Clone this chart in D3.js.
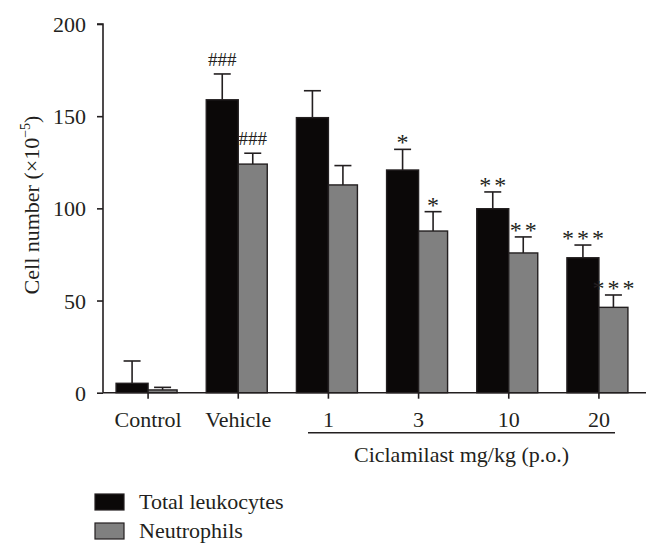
<!DOCTYPE html>
<html><head><meta charset="utf-8">
<script src="https://cdn.jsdelivr.net/npm/d3@7"></script>
<style>body{margin:0;background:#fff}svg{display:block}svg text{font-family:'Liberation Serif','DejaVu Serif';fill:#231f20}</style>
</head><body>
<svg id="c" width="660" height="556"></svg>
<script>
const categories = ["Control","Vehicle","1","3","10","20"];
const leukocytes = [5.1,158.9,149.2,120.8,99.8,73.2];
const leukocytesErr = [12.1,14.0,14.6,11.2,9.1,6.9];
const neutrophils = [1.5,124,112.7,87.7,75.8,46.3];
const neutrophilsErr = [1.4,5.9,10.5,10.5,8.7,6.7];
const leukMarks = ["","###","","*","**","***"];
const neutMarks = ["","###","","*","**","***"];
const yTicks = [0,50,100,150,200];
const seriesNames = ["Total leukocytes","Neutrophils"];
const colors = ["#0b0808","#808080"];

const svg = d3.select("#c");
const x = d3.scaleBand().domain(categories).range([103,644]).padding(0);
const y = d3.scaleLinear().domain([0,200]).range([392.7,24]);
const ink = "#231f20";
const FF = "'Liberation Serif','DejaVu Serif'";

const yAxis = svg.append("g").attr("transform","translate(103,0)")
  .call(d3.axisLeft(y).tickValues(yTicks).tickSize(6).tickPadding(11).tickFormat(d3.format("d")));
yAxis.attr("font-family",FF);
yAxis.select(".domain").attr("stroke",ink).attr("stroke-width",1.6).attr("d","M-6,24H0V392.7");
yAxis.selectAll(".tick line").attr("stroke",ink).attr("stroke-width",1.6);
yAxis.selectAll(".tick text").attr("font-size",22).attr("fill",ink).attr("dy","0.34em");

const xAxis = svg.append("g").attr("transform","translate(0,392.7)")
  .call(d3.axisBottom(x).tickSize(6).tickPadding(13));
xAxis.attr("font-family",FF);
xAxis.select(".domain").attr("stroke",ink).attr("stroke-width",1.6).attr("d","M103,0H646");
xAxis.selectAll(".tick line").attr("stroke",ink).attr("stroke-width",1.6);
xAxis.selectAll(".tick text").attr("font-size",22).attr("fill",ink);

const bw = [32,29];
const groups = [
  {vals:leukocytes, err:leukocytesErr, marks:leukMarks, off:c=>x(c)+x.bandwidth()/2-bw[0], w:bw[0], col:colors[0]},
  {vals:neutrophils, err:neutrophilsErr, marks:neutMarks, off:c=>x(c)+x.bandwidth()/2, w:bw[1], col:colors[1]}
];
groups.forEach(g=>{
  const sel = svg.append("g");
  categories.forEach((c,i)=>{
    const cx = g.off(c)+g.w/2;
    const top = y(g.vals[i] + g.err[i]);
    sel.append("line").attr("x1",cx).attr("x2",cx).attr("y1",y(g.vals[i])).attr("y2",top).attr("stroke",ink).attr("stroke-width",1.6);
    sel.append("line").attr("x1",cx-8.5).attr("x2",cx+8.5).attr("y1",top).attr("y2",top).attr("stroke",ink).attr("stroke-width",1.6);
    sel.append("rect").attr("x",g.off(c)).attr("y",y(g.vals[i])).attr("width",g.w).attr("height",y(0)-y(g.vals[i]))
      .attr("fill",g.col).attr("stroke",ink).attr("stroke-width",1.4);
    const m = g.marks[i];
    if(m){
      if(m[0]==="#"){
        sel.append("text").attr("x",cx).attr("y",top-8).attr("text-anchor","middle").attr("font-size",19).text(m);
      } else {
        sel.append("text").attr("x",cx+1.5).attr("y",top+1).attr("text-anchor","middle").attr("font-size",24)
          .attr("letter-spacing","3px").text(m);
      }
    }
  });
});

svg.append("line").attr("x1",308).attr("x2",615).attr("y1",432.7).attr("y2",432.7).attr("stroke",ink).attr("stroke-width",1.6);
svg.append("text").attr("x",461.5).attr("y",461.5).attr("text-anchor","middle").attr("font-size",22).text("Ciclamilast mg/kg (p.o.)");

const yt = svg.append("text").attr("transform","translate(39,205) rotate(-90)").attr("text-anchor","middle").attr("font-size",22);
yt.append("tspan").text("Cell number (×10");
yt.append("tspan").attr("font-size",14).attr("dy","-9").text("−5");
yt.append("tspan").attr("dy","9").text(")");

const lg = svg.append("g");
seriesNames.forEach((s,i)=>{
  const yy = 494 + i*29;
  lg.append("rect").attr("x",95).attr("y",yy).attr("width",29).attr("height",16).attr("fill",colors[i]).attr("stroke",ink).attr("stroke-width",1.2);
  lg.append("text").attr("x",139).attr("y",yy+14.5).attr("font-size",22).text(s);
});
</script>
</body></html>
